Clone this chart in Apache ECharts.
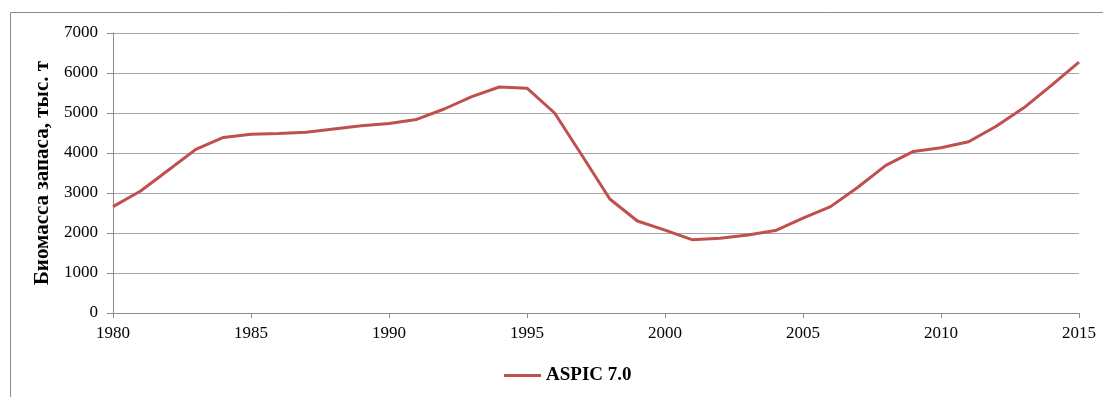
<!DOCTYPE html>
<html>
<head>
<meta charset="utf-8">
<script src="https://cdn.jsdelivr.net/npm/echarts@6/dist/echarts.min.js"></script>
<style>
html,body{margin:0;padding:0;background:#fff;}
#chart{width:1103px;height:397px;}
</style>
</head>
<body>
<div id="chart"></div>
<script>
const years = [1980,1981,1982,1983,1984,1985,1986,1987,1988,1989,1990,1991,1992,1993,1994,1995,1996,1997,1998,1999,2000,2001,2002,2003,2004,2005,2006,2007,2008,2009,2010,2011,2012,2013,2014,2015];
const biomass = [2660,3050,3570,4090,4390,4470,4490,4520,4600,4680,4740,4840,5100,5410,5650,5620,5000,3930,2850,2300,2070,1830,1870,1950,2060,2370,2660,3150,3690,4040,4130,4280,4670,5130,5690,6270];
const seriesName = 'ASPIC 7.0';
const yTitle = 'Биомасса запаса, тыс. т';

const chart = echarts.init(document.getElementById('chart'));
const serif = '"Liberation Serif", "Times New Roman", serif';
chart.setOption({
  animation: false,
  backgroundColor: '#fff',
  graphic: [{
    type: 'rect', z: -1,
    shape: {x: 10.5, y: 12.5, width: 1200, height: 500},
    style: {fill: 'none', stroke: '#8c8c8c', lineWidth: 1}
  }],
  grid: {left: 113, right: 24, top: 33, bottom: 84},
  legend: {
    data: [seriesName],
    left: 499, top: 361,
    itemWidth: 37, itemHeight: 3, itemGap: 2,
    icon: 'rect',
    textStyle: {fontFamily: serif, fontWeight: 'bold', fontSize: 19, color: '#000'}
  },
  xAxis: {
    type: 'value', min: 1980, max: 2015, interval: 5,
    axisLine: {lineStyle: {color: '#8c8c8c', width: 1}},
    axisTick: {show: true, length: 5, lineStyle: {color: '#8c8c8c'}},
    axisLabel: {fontFamily: serif, fontSize: 17, color: '#000', margin: 12, formatter: v => String(v)},
    splitLine: {show: false}
  },
  yAxis: {
    type: 'value', min: 0, max: 7000, interval: 1000,
    name: yTitle, nameLocation: 'middle', nameGap: 55, nameRotate: 90,
    nameTextStyle: {fontFamily: serif, fontWeight: 'bold', fontSize: 21, color: '#000'},
    axisLine: {show: true, lineStyle: {color: '#8c8c8c', width: 1}},
    axisTick: {show: true, length: 6, lineStyle: {color: '#8c8c8c'}},
    axisLabel: {fontFamily: serif, fontSize: 17, color: '#000', margin: 15, formatter: v => String(v)},
    splitLine: {lineStyle: {color: '#a6a6a6', width: 1}}
  },
  series: [{
    name: seriesName, type: 'line',
    data: years.map((y, i) => [y, biomass[i]]),
    showSymbol: false, symbol: 'none',
    lineStyle: {color: '#C0504D', width: 3},
    itemStyle: {color: '#C0504D'}
  }]
});
</script>
</body>
</html>
